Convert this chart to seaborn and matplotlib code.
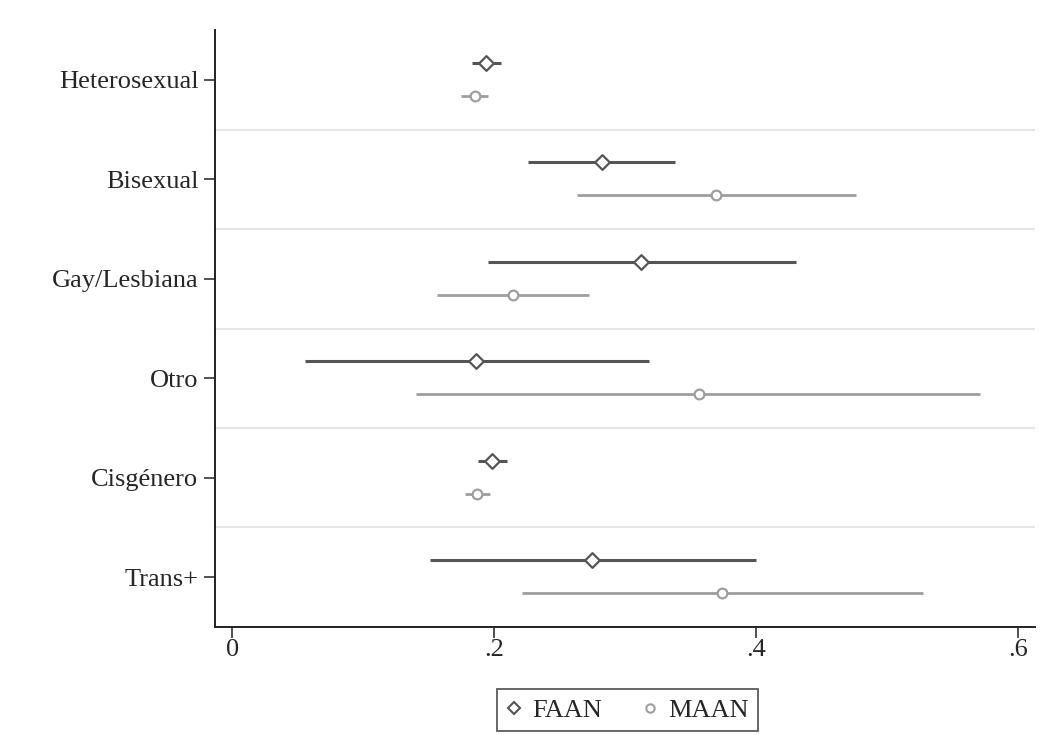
"""
Coefficient-style plot of FAAN vs MAAN estimates by sexual orientation / gender identity.
"""

import matplotlib.pyplot as plt
import pandas as pd
import seaborn as sns
from matplotlib.lines import Line2D

categories = ["Heterosexual", "Bisexual", "Gay/Lesbiana", "Otro", "Cisgénero", "Trans+"]

faan_est = [0.194, 0.282, 0.312, 0.186, 0.198, 0.275]
faan_lo = [0.183, 0.226, 0.195, 0.056, 0.188, 0.151]
faan_hi = [0.205, 0.338, 0.430, 0.318, 0.210, 0.400]

maan_est = [0.185, 0.369, 0.214, 0.356, 0.187, 0.374]
maan_lo = [0.175, 0.263, 0.156, 0.140, 0.178, 0.221]
maan_hi = [0.195, 0.476, 0.272, 0.571, 0.197, 0.527]

x_ticks = [0, 0.2, 0.4, 0.6]
x_tick_labels = ["0", ".2", ".4", ".6"]

DARK = "#555555"
LIGHT = "#9e9e9e"

sns.set_style("white")
plt.rcParams["font.family"] = ["Liberation Serif", "DejaVu Serif"]

rows = []
for i, cat in enumerate(categories):
    rows.append(dict(cat=cat, series="FAAN", y=i - 0.17, est=faan_est[i], lo=faan_lo[i], hi=faan_hi[i]))
    rows.append(dict(cat=cat, series="MAAN", y=i + 0.16, est=maan_est[i], lo=maan_lo[i], hi=maan_hi[i]))
df = pd.DataFrame(rows)

fig = plt.figure(figsize=(10.49, 7.35), dpi=100)
ax = fig.add_axes([0.205, 0.147, 0.782, 0.812])

# group separators
for b in range(1, len(categories)):
    ax.axhline(b - 0.5, color="#e6e6e6", lw=1.5, zorder=0)

styles = {"FAAN": (DARK, "D", 2.2, 7.5), "MAAN": (LIGHT, "o", 2.0, 7)}
for name, sub in df.groupby("series"):
    color, marker, lw, ms = styles[name]
    ax.hlines(sub["y"], sub["lo"], sub["hi"], color=color, lw=lw, zorder=2)
    sns.scatterplot(
        data=sub, x="est", y="y", ax=ax, marker=marker, s=ms**2,
        facecolor="white", edgecolor=color, linewidth=1.6, zorder=3, legend=False,
    )

ax.set_ylim(len(categories) - 0.5, -0.5)
ax.set_xlim(-0.013, 0.613)
ax.set_yticks(range(len(categories)))
ax.set_yticklabels(categories, fontsize=19)
ax.set_xticks(x_ticks)
ax.set_xticklabels(x_tick_labels, fontsize=19)
ax.set_xlabel("")
ax.set_ylabel("")
ax.tick_params(axis="both", direction="out", length=8, width=1.2, color="#333333", left=True, bottom=True)
ax.tick_params(axis="y", pad=4)
ax.tick_params(axis="x", pad=1)
sns.despine(ax=ax, top=True, right=True)
for side in ("left", "bottom"):
    ax.spines[side].set_color("#222222")
    ax.spines[side].set_linewidth(1.4)

handles = [
    Line2D([], [], ls="none", marker="D", ms=6, mfc="white", mec=DARK, mew=1.5),
    Line2D([], [], ls="none", marker="o", ms=6, mfc="white", mec=LIGHT, mew=1.5),
]
leg = fig.legend(
    handles, ["FAAN", "MAAN"], loc="center", bbox_to_anchor=(0.598, 0.034),
    ncol=2, fontsize=19, frameon=True, fancybox=False, edgecolor="#333333",
    handlelength=0.6, handletextpad=0.4, columnspacing=1.5, borderpad=0.35,
    borderaxespad=0,
)
leg.get_frame().set_linewidth(1.3)

fig.savefig("out.png", dpi=100, facecolor="white")
